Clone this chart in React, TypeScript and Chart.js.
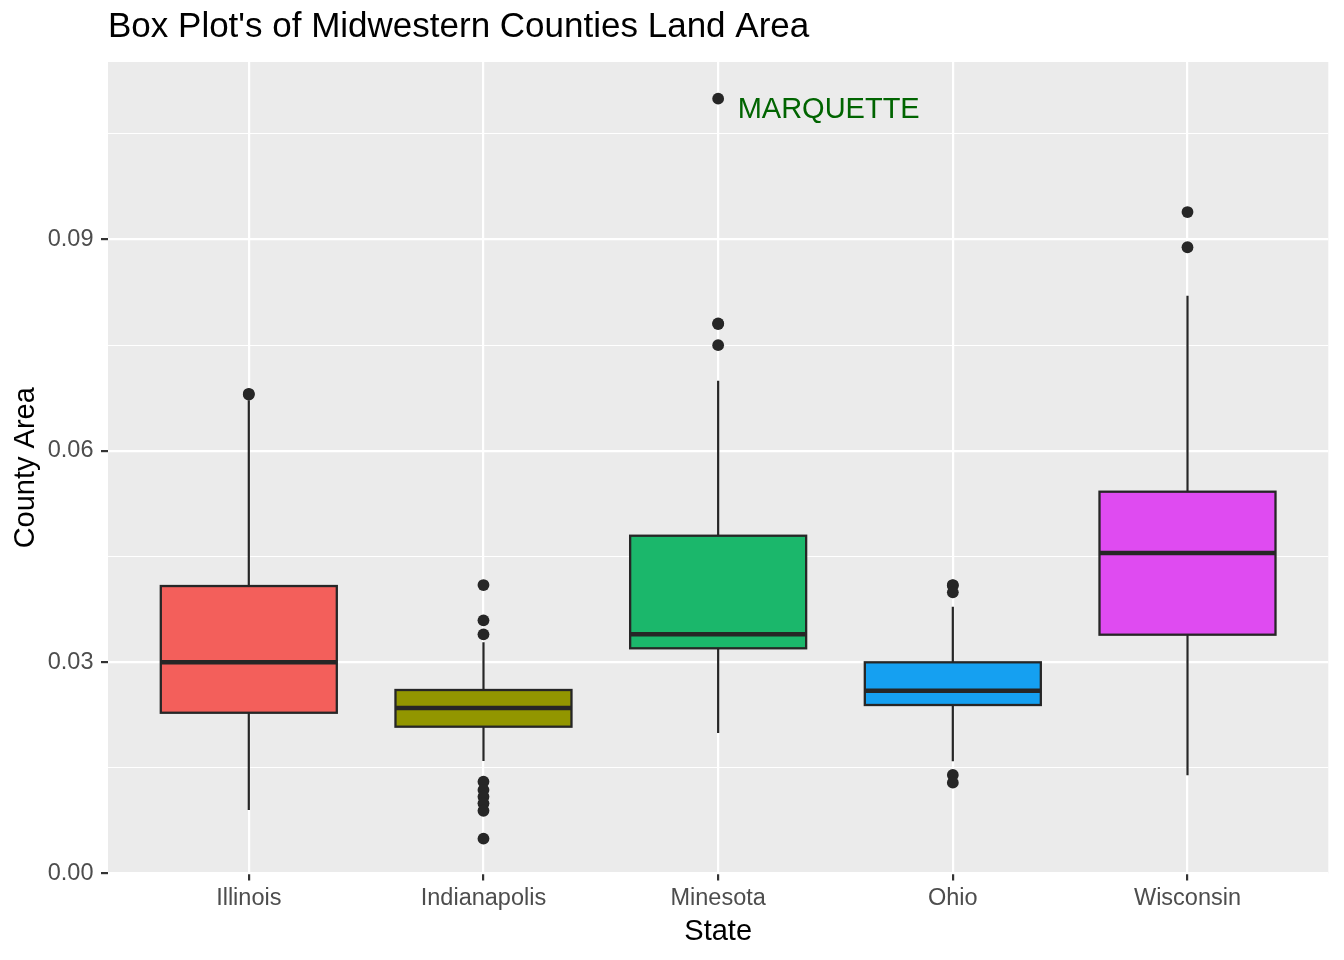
import React, { useEffect, useRef } from 'react';
import { Chart, registerables } from 'chart.js';

Chart.register(...registerables);

// ---- Data ----
const states = ['Illinois', 'Indianapolis', 'Minesota', 'Ohio', 'Wisconsin'];
const q1Values = [0.02282, 0.02084, 0.03197, 0.02392, 0.0339];
const medianValues = [0.02998, 0.02349, 0.03395, 0.02595, 0.0455];
const q3Values = [0.04081, 0.02605, 0.04795, 0.02998, 0.0542];
const whiskerLowValues = [0.00901, 0.01597, 0.01994, 0.01593, 0.01394];
const whiskerHighValues = [0.0672, 0.03282, 0.06995, 0.03787, 0.082];
const outliersIllinois = [0.068, 0.0681];
const outliersIndianapolis = [0.04095, 0.03594, 0.03395, 0.01303, 0.01185, 0.0109, 0.00996, 0.00891, 0.00494];
const outliersMinesota = [0.11, 0.078, 0.0781, 0.075];
const outliersOhio = [0.04095, 0.0409, 0.03991, 0.01398, 0.01289];
const outliersWisconsin = [0.0939, 0.0889];
const fillColors = ['#F35F5B', '#929600', '#1BB76B', '#15A0F1', '#DF4BF1'];
const yMajorTicks = [0, 0.03, 0.06, 0.09];
const yMinorTicks = [0.015, 0.045, 0.075, 0.105];
const annotationText = 'MARQUETTE';
const annotationX = 3.083;
const annotationY = 0.10845;

const FONT = '"Liberation Sans", Arial, Helvetica, sans-serif';
const LINE = '#262626';

const isMajor = (v: number) => yMajorTicks.some((t) => Math.abs(t - v) < 1e-9);

const boxPlugin = {
  id: 'ggbox',
  beforeDraw(chart: any) {
    const { ctx, chartArea } = chart;
    ctx.save();
    ctx.fillStyle = '#EBEBEB';
    ctx.fillRect(chartArea.left, chartArea.top, chartArea.width, chartArea.height);
    ctx.restore();
  },
  beforeDatasetsDraw(chart: any) {
    const { ctx } = chart;
    const xs = chart.scales.x;
    const ys = chart.scales.y;
    ctx.save();
    ctx.strokeStyle = LINE;
    ctx.lineWidth = 2.2;
    ctx.lineCap = 'butt';
    states.forEach((_, i) => {
      const px = xs.getPixelForValue(i + 1);
      ctx.beginPath();
      ctx.moveTo(px, ys.getPixelForValue(whiskerLowValues[i]));
      ctx.lineTo(px, ys.getPixelForValue(q1Values[i]));
      ctx.moveTo(px, ys.getPixelForValue(q3Values[i]));
      ctx.lineTo(px, ys.getPixelForValue(whiskerHighValues[i]));
      ctx.stroke();
    });
    ctx.restore();
  },
  afterDatasetDraw(chart: any, args: any) {
    if (args.index !== 0) return;
    const { ctx } = chart;
    const ys = chart.scales.y;
    const meta = chart.getDatasetMeta(0);
    ctx.save();
    ctx.strokeStyle = LINE;
    meta.data.forEach((el: any, i: number) => {
      const p = el.getProps(['x', 'y', 'base', 'width'], true);
      const top = Math.min(p.y, p.base);
      const bottom = Math.max(p.y, p.base);
      const left = p.x - p.width / 2;
      ctx.lineWidth = 2.3;
      ctx.strokeRect(left, top, p.width, bottom - top);
      const my = ys.getPixelForValue(medianValues[i]);
      ctx.lineWidth = 4.5;
      ctx.beginPath();
      ctx.moveTo(left, my);
      ctx.lineTo(left + p.width, my);
      ctx.stroke();
    });
    ctx.restore();
  },
  afterDraw(chart: any) {
    const { ctx } = chart;
    const xs = chart.scales.x;
    const ys = chart.scales.y;
    ctx.save();
    ctx.fillStyle = '#006400';
    ctx.font = `29px ${FONT}`;
    ctx.textAlign = 'left';
    ctx.textBaseline = 'middle';
    ctx.fillText(annotationText, xs.getPixelForValue(annotationX), ys.getPixelForValue(annotationY));
    ctx.restore();
  },
};

export default function App() {
  const ref = useRef<HTMLCanvasElement | null>(null);

  useEffect(() => {
    document.body.style.margin = '0';
    if (!ref.current) return;
    Chart.defaults.font.family = FONT;

    const boxData = states.map((_, i) => ({ x: i + 1, y: [q1Values[i], q3Values[i]] }));
    const outlierPoints = [outliersIllinois, outliersIndianapolis, outliersMinesota, outliersOhio, outliersWisconsin]
      .flatMap((arr, i) => arr.map((v) => ({ x: i + 1, y: v })));

    const chart = new Chart(ref.current, {
      type: 'bar',
      data: {
        datasets: [
          {
            type: 'bar',
            data: boxData as any,
            backgroundColor: fillColors,
            borderWidth: 0,
            barPercentage: 0.75,
            categoryPercentage: 1,
          },
          {
            type: 'scatter',
            data: outlierPoints as any,
            pointRadius: 5.9,
            pointHoverRadius: 5.9,
            pointBackgroundColor: LINE,
            pointBorderWidth: 0,
            showLine: false,
          } as any,
        ],
      },
      options: {
        animation: false,
        responsive: false,
        devicePixelRatio: 1,
        events: [],
        layout: { padding: { left: 0, right: 15.7, top: 0, bottom: 0 } },
        plugins: {
          legend: { display: false },
          tooltip: { enabled: false },
          title: {
            display: true,
            text: "Box Plot's of Midwestern Counties Land Area",
            align: 'start',
            fullSize: false,
            color: '#000000',
            font: { size: 35, weight: 'normal' as any, family: FONT },
            padding: { top: 6, bottom: 14 },
          },
        },
        scales: {
          x: {
            type: 'linear',
            min: 0.4,
            max: 5.6,
            offset: false,
            afterBuildTicks: (s: any) => {
              s.ticks = states.map((_, i) => ({ value: i + 1 }));
            },
            afterFit: (s: any) => {
              s.height = 86.5;
            },
            grid: {
              offset: false,
              color: '#FFFFFF',
              lineWidth: 2.2,
              tickColor: '#333333',
              tickLength: 7,
              tickWidth: 2.2,
            },
            border: { display: false },
            ticks: {
              autoSkip: false,
              maxRotation: 0,
              padding: 4,
              color: '#4D4D4D',
              font: { size: 23.5 },
              callback: (v: any) => states[Math.round(Number(v)) - 1] ?? '',
            },
            title: {
              display: true,
              text: 'State',
              color: '#000000',
              font: { size: 29 },
              padding: { top: 0, bottom: 11 },
            },
          } as any,
          y: {
            type: 'linear',
            min: 0,
            max: 0.1152,
            afterBuildTicks: (s: any) => {
              s.ticks = [...yMajorTicks, ...yMinorTicks].sort((a, b) => a - b).map((v) => ({ value: v }));
            },
            afterFit: (s: any) => {
              s.width = 108;
            },
            grid: {
              color: '#FFFFFF',
              lineWidth: (c: any) => (c.tick && isMajor(c.tick.value) ? 2.2 : 1.1),
              tickColor: (c: any) => (c.tick && isMajor(c.tick.value) ? '#333333' : 'rgba(0,0,0,0)'),
              tickLength: 7,
              tickWidth: 2.2,
            },
            border: { display: false },
            ticks: {
              autoSkip: false,
              padding: 7.5,
              color: '#4D4D4D',
              font: { size: 23.5 },
              callback: (v: any) => (isMajor(Number(v)) ? Number(v).toFixed(2) : ''),
            },
            title: {
              display: true,
              text: 'County Area',
              color: '#000000',
              font: { size: 29 },
              padding: { top: 9, bottom: 0 },
            },
          } as any,
        },
      },
      plugins: [boxPlugin],
    });

    return () => chart.destroy();
  }, []);

  return <canvas ref={ref} width={1344} height={960} style={{ display: 'block' }} />;
}
